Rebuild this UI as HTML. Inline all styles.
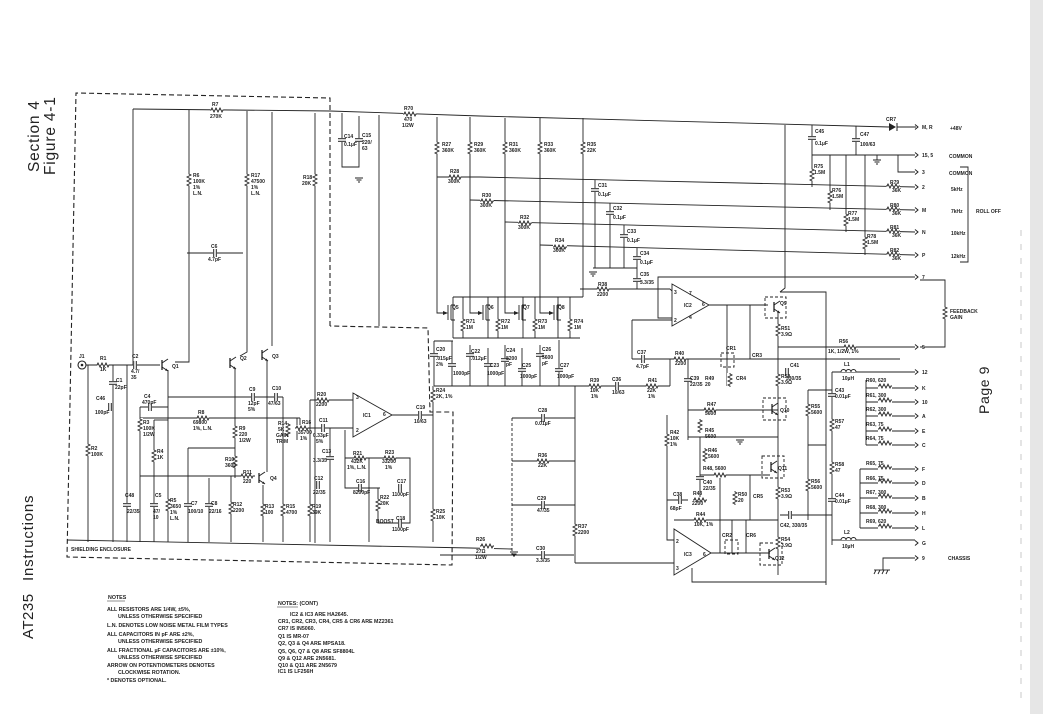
<!DOCTYPE html>
<html><head><meta charset="utf-8"><style>
html,body{margin:0;padding:0;background:#fff;}
svg{display:block;}
text{font-family:"Liberation Sans",sans-serif;fill:#222;}
.t{font-size:5px;font-weight:bold;}
.n{font-size:5.3px;font-weight:bold;}
</style></head><body>
<svg width="1043" height="714" viewBox="0 0 1043 714" xmlns="http://www.w3.org/2000/svg">
<defs>
<g id="rv"><rect x="-3" y="-7" width="6" height="14" fill="#fff"/><polyline points="0,-7 0,-6 2,-5 -2,-3 2,-1 -2,1 2,3 -2,5 0,6 0,7" fill="none" stroke="#222" stroke-width="0.9"/></g>
<g id="rh"><rect x="-7" y="-3" width="14" height="6" fill="#fff"/><polyline points="-7,0 -6,0 -5,-2 -3,2 -1,-2 1,2 3,-2 5,2 6,0 7,0" fill="none" stroke="#222" stroke-width="0.9"/></g>
<g id="cv"><rect x="-4" y="-2" width="8" height="4" fill="#fff"/><line x1="-4" y1="-1.3" x2="4" y2="-1.3" stroke="#222" stroke-width="1"/><line x1="-4" y1="1.3" x2="4" y2="1.3" stroke="#222" stroke-width="1"/></g>
<g id="ch"><rect x="-2" y="-4" width="4" height="8" fill="#fff"/><line x1="-1.3" y1="-4" x2="-1.3" y2="4" stroke="#222" stroke-width="1"/><line x1="1.3" y1="-4" x2="1.3" y2="4" stroke="#222" stroke-width="1"/></g>
<g id="ar"><polyline points="-3,-2.5 0,0 -3,2.5" fill="none" stroke="#222" stroke-width="1"/></g>
<g id="gnd"><line x1="-4" y1="0" x2="4" y2="0" stroke="#222"/><line x1="-2.5" y1="2" x2="2.5" y2="2" stroke="#222"/><line x1="-1" y1="4" x2="1" y2="4" stroke="#222"/></g>
<g id="tr"><circle cx="0" cy="0" r="0" fill="none"/><line x1="-3" y1="-5" x2="-3" y2="5" stroke="#222" stroke-width="1.3"/><line x1="-3" y1="-2" x2="3" y2="-6" stroke="#222"/><line x1="-3" y1="2" x2="3" y2="6" stroke="#222"/><polygon points="3,6 0,5.5 1.5,3.5" fill="#222"/></g>
</defs>

<!-- right gray strip -->
<rect x="1030" y="0" width="13" height="714" fill="#e6e6e6"/>
<line x1="1021" y1="230" x2="1021" y2="700" stroke="#bbb" stroke-width="0.8" stroke-dasharray="6 8"/>

<!-- side titles -->
<text transform="translate(39,172) rotate(-90)" font-size="15.5" letter-spacing="0.8">Section 4</text>
<text transform="translate(55,175) rotate(-90)" font-size="15.5" letter-spacing="0.8">Figure 4-1</text>
<text transform="translate(33,581) rotate(-90)" font-size="15" letter-spacing="0.8">Instructions</text>
<text transform="translate(33,639) rotate(-90)" font-size="15" letter-spacing="0.5">AT235</text>
<text transform="translate(989,414) rotate(-90)" font-size="14" letter-spacing="0.6">Page 9</text>

<g fill="none" stroke="#222" stroke-width="0.9">
<!-- shielding enclosure dashed -->
<polyline points="330,326 330,98 76,93 67,557 452,565 453,412 430,412 428,328 330,326" stroke-dasharray="5 3" stroke-width="1.1"/>

<!-- top bus -->
<polyline points="133,109 330,111 480,116 889,127"/>
<line x1="897" y1="127" x2="916" y2="127"/>
<!-- left verticals -->
<line x1="133" y1="109" x2="133" y2="365"/>
<polyline points="189,110 189,362 175,362"/>
<polyline points="247,111 247,352 240,356"/>
<line x1="272" y1="112" x2="272" y2="346"/>
<line x1="315" y1="113" x2="315" y2="543"/>
<line x1="379" y1="115" x2="379" y2="326"/>
<polyline points="342,113 342,167 359,167 359,116"/>
<line x1="187" y1="253" x2="243" y2="253"/>
<!-- J1 input -->
<line x1="86" y1="365" x2="160" y2="365"/>
<line x1="88" y1="365" x2="88" y2="542"/>
<line x1="113" y1="365" x2="113" y2="542"/>
<line x1="127" y1="365" x2="127" y2="542"/>
<line x1="140" y1="407" x2="140" y2="542"/>
<polyline points="140,407 168,407"/>
<line x1="168" y1="370" x2="168" y2="542"/>
<line x1="154" y1="420" x2="154" y2="542"/>
<line x1="154" y1="420" x2="168" y2="420"/>
<line x1="168" y1="397" x2="283" y2="397"/>
<line x1="140" y1="418" x2="300" y2="418"/>
<line x1="235" y1="368" x2="235" y2="478"/>
<polyline points="188,448 235,448"/>
<line x1="188" y1="448" x2="188" y2="542"/>
<line x1="209" y1="478" x2="209" y2="542"/>
<polyline points="140,476 255,476"/>
<line x1="231" y1="476" x2="231" y2="542"/>
<line x1="263" y1="485" x2="263" y2="542"/>
<line x1="267" y1="360" x2="267" y2="472"/>
<line x1="283" y1="397" x2="283" y2="542"/>
<line x1="297" y1="418" x2="297" y2="440"/>
<polyline points="300,418 300,428 330,428 353,428"/>
<polyline points="310,400 353,400"/>
<line x1="310" y1="400" x2="310" y2="542"/>
<line x1="330" y1="428" x2="330" y2="542"/>
<polyline points="345,430 345,488 380,488"/>
<polyline points="345,458 410,458 410,523 378,523 378,488"/>
<line x1="369" y1="458" x2="369" y2="542"/>
<polyline points="392,415 433,415"/>
<line x1="433" y1="386" x2="433" y2="542"/>
<!-- IC1 -->
<polygon points="353,393 353,437 392,415" fill="#fff"/>
<!-- ground line -->
<polyline points="67,540 470,548 512,549"/>

<!-- FET area -->
<polyline points="437,117 437,313 444,313"/>
<polyline points="470,117 470,313 478,313"/>
<polyline points="505,118 505,313 514,313"/>
<polyline points="540,118 540,313 549,313"/>
<line x1="583" y1="118" x2="583" y2="297"/>
<line x1="453" y1="297" x2="583" y2="297"/>
<line x1="453" y1="338" x2="580" y2="338"/>
<line x1="453" y1="297" x2="453" y2="338"/>
<line x1="463" y1="297" x2="463" y2="338"/>
<line x1="488" y1="297" x2="488" y2="338"/>
<line x1="498" y1="297" x2="498" y2="338"/>
<line x1="523" y1="297" x2="523" y2="338"/>
<line x1="535" y1="297" x2="535" y2="338"/>
<line x1="558" y1="297" x2="558" y2="338"/>
<line x1="570" y1="297" x2="570" y2="338"/>
<line x1="434" y1="341" x2="434" y2="386"/>
<line x1="452" y1="341" x2="452" y2="386"/>
<line x1="470" y1="345" x2="470" y2="386"/>
<line x1="488" y1="348" x2="488" y2="386"/>
<line x1="505" y1="345" x2="505" y2="386"/>
<line x1="522" y1="348" x2="522" y2="386"/>
<line x1="540" y1="345" x2="540" y2="386"/>
<line x1="559" y1="340" x2="559" y2="386"/>
<line x1="434" y1="341" x2="453" y2="341"/>
<line x1="434" y1="386" x2="670" y2="386"/>
<line x1="670" y1="359" x2="670" y2="386"/>
<!-- roll off lines -->
<polyline points="437,177 480,177 915,187"/>
<polyline points="470,200 915,210"/>
<polyline points="505,222 915,232"/>
<polyline points="540,245 915,255"/>
<line x1="595" y1="180" x2="595" y2="268"/>
<line x1="610" y1="203" x2="610" y2="268"/>
<line x1="624" y1="225" x2="624" y2="268"/>
<line x1="637" y1="248" x2="637" y2="289"/>
<line x1="593" y1="268" x2="637" y2="268"/>
<line x1="580" y1="289" x2="670" y2="289"/>
<line x1="670" y1="289" x2="672" y2="291"/>
<!-- right supply -->
<line x1="812" y1="125" x2="812" y2="187"/>
<line x1="856" y1="126" x2="856" y2="155"/>
<line x1="812" y1="155" x2="915" y2="155"/>
<line x1="830" y1="155" x2="830" y2="210"/>
<line x1="846" y1="155" x2="846" y2="232"/>
<line x1="865" y1="155" x2="865" y2="255"/>
<polyline points="898,155 898,172 915,172"/>
<line x1="877" y1="155" x2="877" y2="160"/>
<polyline points="960,167 968,167 968,262 960,262"/>
<!-- IC2 -->
<polyline points="785,125 785,288 780,292"/>
<polyline points="672,318 658,318 658,277 915,277"/>
<polyline points="632,320 672,320"/>
<line x1="632" y1="320" x2="632" y2="359"/>
<line x1="632" y1="359" x2="900" y2="359"/>
<polygon points="672,284 672,326 709,305" fill="#fff"/>
<line x1="709" y1="305" x2="768" y2="305"/>
<line x1="727" y1="305" x2="727" y2="386"/>
<line x1="750" y1="305" x2="750" y2="359"/>
<polyline points="780,292 826,292 826,585"/>
<line x1="778" y1="312" x2="778" y2="575"/>
<line x1="778" y1="347" x2="915" y2="347"/>
<polyline points="920,280 945,280 945,347 920,347"/>
<!-- lower right -->
<line x1="808" y1="390" x2="808" y2="520"/>
<line x1="832" y1="372" x2="832" y2="545"/>
<line x1="808" y1="390" x2="832" y2="390"/>
<line x1="808" y1="445" x2="826" y2="445"/>
<line x1="780" y1="515" x2="832" y2="515"/>
<polyline points="832,372 866,372 915,372"/>
<polyline points="832,540 860,540 915,540"/>
<polyline points="866,380 866,445"/>
<polyline points="866,388 915,388"/>
<polyline points="866,402 915,402"/>
<polyline points="866,416 915,416"/>
<polyline points="866,431 915,431"/>
<polyline points="866,445 915,445"/>
<polyline points="860,469 860,528"/>
<polyline points="860,469 915,469"/>
<polyline points="860,483 915,483"/>
<polyline points="860,498 915,498"/>
<polyline points="860,513 915,513"/>
<polyline points="860,528 915,528"/>
<polyline points="883,570 883,558 915,558"/>
<line x1="874" y1="570" x2="890" y2="570"/>
<line x1="876" y1="570" x2="874" y2="574"/><line x1="880" y1="570" x2="878" y2="574"/><line x1="884" y1="570" x2="882" y2="574"/><line x1="888" y1="570" x2="886" y2="574"/>
<!-- mid-right transistor stage -->
<line x1="688" y1="359" x2="688" y2="440"/>
<line x1="688" y1="410" x2="778" y2="410"/>
<polyline points="688,437 778,437"/>
<line x1="700" y1="437" x2="700" y2="500"/>
<polyline points="700,475 770,475"/>
<line x1="720" y1="475" x2="720" y2="553"/>
<line x1="750" y1="475" x2="750" y2="520"/>
<polyline points="667,415 667,540 674,540"/>
<polyline points="667,500 688,500"/>
<polyline points="674,520 778,520"/>
<line x1="732" y1="520" x2="732" y2="553"/>
<line x1="746" y1="520" x2="746" y2="553"/>
<polygon points="674,529 674,575 711,553" fill="#fff"/>
<line x1="711" y1="553" x2="770" y2="553"/>
<polyline points="692,568 692,582 823,582 826,582"/>
<!-- lower middle -->
<line x1="512" y1="418" x2="575" y2="418"/>
<line x1="512" y1="461" x2="575" y2="461"/>
<line x1="512" y1="505" x2="575" y2="505"/>
<line x1="440" y1="555" x2="574" y2="555"/>
<line x1="512" y1="418" x2="512" y2="555" stroke-dasharray="3 2"/>
<line x1="575" y1="386" x2="575" y2="563"/>
<line x1="575" y1="563" x2="674" y2="563"/>
</g>

<!-- J1 -->
<circle cx="82" cy="365" r="4" fill="#fff" stroke="#222" stroke-width="1.1"/>
<circle cx="82" cy="365" r="1.3" fill="#222"/>
<!-- transistors -->
<use href="#tr" x="165" y="365"/>
<use href="#tr" x="233" y="363"/>
<use href="#tr" x="265" y="355"/>
<use href="#tr" x="262" y="478"/>
<!-- FETs -->
<g fill="none" stroke="#222" stroke-width="0.9">
<path d="M448,305 v15 M451,305 h4 M451,320 h4 M451,305 v15"/>
<path d="M483,305 v15 M486,305 h4 M486,320 h4 M486,305 v15"/>
<path d="M519,305 v15 M522,305 h4 M522,320 h4 M522,305 v15"/>
<path d="M554,305 v15 M557,305 h4 M557,320 h4 M557,305 v15"/>
</g>
<g fill="#222"><polygon points="448,313 443,311 443,315"/><polygon points="483,313 478,311 478,315"/><polygon points="519,313 514,311 514,315"/><polygon points="554,313 549,311 549,315"/></g>
<!-- dashed boxes -->
<g fill="none" stroke="#222" stroke-width="0.9" stroke-dasharray="3 2">
<rect x="765" y="297" width="21" height="21"/>
<rect x="763" y="398" width="23" height="22"/>
<rect x="762" y="456" width="22" height="22"/>
<rect x="760" y="543" width="22" height="22"/>
<rect x="721" y="353" width="13" height="14"/>
<rect x="725" y="540" width="13" height="14"/>
</g>
<use href="#tr" x="777" y="307"/>
<use href="#tr" x="775" y="409"/>
<use href="#tr" x="774" y="467"/>
<use href="#tr" x="772" y="554"/>
<!-- CR7 diode -->
<polygon points="889,123 889,131 896,127" fill="#222"/><line x1="897" y1="123" x2="897" y2="131" stroke="#222"/>

<!-- resistors -->
<use href="#rh" x="217" y="110"/>
<use href="#rh" x="410" y="114"/>
<use href="#rv" x="189" y="180"/>
<use href="#rv" x="247" y="180"/>
<use href="#rv" x="315" y="180"/>
<use href="#rv" x="437" y="148"/>
<use href="#rv" x="470" y="148"/>
<use href="#rv" x="505" y="148"/>
<use href="#rv" x="540" y="148"/>
<use href="#rv" x="583" y="148"/>
<use href="#rh" x="455" y="177"/>
<use href="#rh" x="487" y="201"/>
<use href="#rh" x="525" y="223"/>
<use href="#rh" x="560" y="247"/>
<use href="#rv" x="812" y="175"/>
<use href="#rv" x="830" y="197"/>
<use href="#rv" x="846" y="220"/>
<use href="#rv" x="865" y="243"/>
<use href="#rh" x="893" y="186"/>
<use href="#rh" x="893" y="209"/>
<use href="#rh" x="893" y="231"/>
<use href="#rh" x="893" y="254"/>
<use href="#rh" x="603" y="289"/>
<use href="#rv" x="463" y="325"/>
<use href="#rv" x="498" y="325"/>
<use href="#rv" x="535" y="325"/>
<use href="#rv" x="570" y="325"/>
<use href="#rh" x="103" y="365"/>
<use href="#rv" x="88" y="450"/>
<use href="#rv" x="140" y="425"/>
<use href="#rv" x="154" y="456"/>
<use href="#rv" x="168" y="505"/>
<use href="#rh" x="203" y="418"/>
<use href="#rv" x="235" y="432"/>
<use href="#rv" x="235" y="462"/>
<use href="#rh" x="247" y="476"/>
<use href="#rv" x="231" y="508"/>
<use href="#rv" x="263" y="510"/>
<use href="#rv" x="283" y="510"/>
<use href="#rv" x="310" y="510"/>
<use href="#rv" x="288" y="430"/>
<use href="#rh" x="302" y="428"/>
<use href="#rh" x="323" y="400"/>
<use href="#rh" x="360" y="458"/>
<use href="#rh" x="390" y="458"/>
<use href="#rv" x="378" y="505"/>
<use href="#rv" x="433" y="396"/>
<use href="#rv" x="433" y="515"/>
<use href="#rh" x="595" y="386"/>
<use href="#rh" x="652" y="386"/>
<use href="#rh" x="680" y="359"/>
<use href="#rh" x="543" y="461"/>
<use href="#rv" x="575" y="530"/>
<use href="#rh" x="487" y="546"/>
<use href="#rv" x="945" y="313"/>
<use href="#rv" x="778" y="330"/>
<use href="#rh" x="850" y="347"/>
<use href="#rv" x="730" y="380"/>
<use href="#rv" x="778" y="380"/>
<use href="#rh" x="710" y="410"/>
<use href="#rv" x="700" y="426"/>
<use href="#rv" x="667" y="440"/>
<use href="#rv" x="705" y="455"/>
<use href="#rh" x="720" y="475"/>
<use href="#rh" x="700" y="500"/>
<use href="#rv" x="735" y="498"/>
<use href="#rh" x="700" y="520"/>
<use href="#rv" x="778" y="493"/>
<use href="#rv" x="778" y="543"/>
<use href="#rv" x="808" y="410"/>
<use href="#rv" x="808" y="485"/>
<use href="#rv" x="832" y="425"/>
<use href="#rv" x="832" y="468"/>
<use href="#rh" x="885" y="386"/><use href="#rh" x="885" y="400"/><use href="#rh" x="885" y="414"/><use href="#rh" x="885" y="429"/><use href="#rh" x="885" y="443"/>
<use href="#rh" x="885" y="467"/><use href="#rh" x="885" y="481"/><use href="#rh" x="885" y="496"/><use href="#rh" x="885" y="511"/><use href="#rh" x="885" y="526"/>
<!-- inductors -->
<path d="M841,372 a2.5,2.5 0 0 1 5,0 a2.5,2.5 0 0 1 5,0 a2.5,2.5 0 0 1 5,0" fill="#fff" stroke="#222"/>
<path d="M841,540 a2.5,2.5 0 0 1 5,0 a2.5,2.5 0 0 1 5,0 a2.5,2.5 0 0 1 5,0" fill="#fff" stroke="#222"/>
<!-- caps -->
<use href="#cv" x="342" y="140"/><use href="#cv" x="359" y="140"/>
<use href="#ch" x="215" y="253"/>
<use href="#ch" x="135" y="365"/>
<use href="#cv" x="113" y="383"/>
<use href="#ch" x="110" y="407"/>
<use href="#ch" x="150" y="407"/>
<use href="#ch" x="253" y="397"/>
<use href="#ch" x="276" y="397"/>
<use href="#cv" x="127" y="505"/><use href="#cv" x="154" y="505"/><use href="#cv" x="188" y="505"/><use href="#cv" x="209" y="505"/>
<use href="#ch" x="323" y="428"/>
<use href="#cv" x="330" y="458"/>
<use href="#ch" x="318" y="485"/>
<use href="#ch" x="360" y="488"/><use href="#ch" x="400" y="488"/><use href="#ch" x="400" y="523"/>
<use href="#ch" x="420" y="415"/>
<use href="#cv" x="595" y="190"/><use href="#cv" x="610" y="213"/><use href="#cv" x="624" y="236"/><use href="#cv" x="637" y="258"/><use href="#cv" x="637" y="280"/>
<use href="#cv" x="812" y="138"/><use href="#cv" x="856" y="140"/>
<use href="#cv" x="434" y="355"/><use href="#cv" x="452" y="365"/><use href="#cv" x="470" y="355"/><use href="#cv" x="488" y="365"/><use href="#cv" x="505" y="360"/><use href="#cv" x="522" y="370"/><use href="#cv" x="540" y="355"/><use href="#cv" x="559" y="370"/>
<use href="#ch" x="617" y="386"/><use href="#ch" x="643" y="359"/>
<use href="#ch" x="543" y="418"/><use href="#ch" x="543" y="505"/><use href="#ch" x="543" y="555"/>
<use href="#cv" x="688" y="380"/>
<use href="#cv" x="700" y="478"/>
<use href="#ch" x="680" y="500"/>
<use href="#ch" x="790" y="515"/>
<use href="#ch" x="787" y="372"/>
<use href="#cv" x="832" y="395"/><use href="#cv" x="832" y="500"/>
<!-- grounds -->
<use href="#gnd" x="359" y="178"/><use href="#gnd" x="593" y="272"/><use href="#gnd" x="877" y="160"/><use href="#gnd" x="514" y="552"/><use href="#gnd" x="740" y="440"/>
<!-- terminal arrows -->
<g>
<use href="#ar" x="918" y="127"/><use href="#ar" x="918" y="155"/><use href="#ar" x="918" y="172"/><use href="#ar" x="918" y="187"/><use href="#ar" x="918" y="210"/><use href="#ar" x="918" y="232"/><use href="#ar" x="918" y="255"/><use href="#ar" x="918" y="277"/><use href="#ar" x="918" y="347"/>
<use href="#ar" x="918" y="372"/><use href="#ar" x="918" y="388"/><use href="#ar" x="918" y="402"/><use href="#ar" x="918" y="416"/><use href="#ar" x="918" y="431"/><use href="#ar" x="918" y="445"/><use href="#ar" x="918" y="469"/><use href="#ar" x="918" y="483"/><use href="#ar" x="918" y="498"/><use href="#ar" x="918" y="513"/><use href="#ar" x="918" y="528"/><use href="#ar" x="918" y="543"/><use href="#ar" x="918" y="558"/>
</g>

<!-- labels -->
<g class="t">
<text x="212" y="106">R7</text><text x="210" y="118">270K</text>
<text x="404" y="110">R70</text><text x="404" y="121">470</text><text x="402" y="127">1/2W</text>
<text x="193" y="177">R6</text><text x="193" y="183">100K</text><text x="193" y="189">1%</text><text x="193" y="195">L.N.</text>
<text x="251" y="177">R17</text><text x="251" y="183">47500</text><text x="251" y="189">1%</text><text x="251" y="195">L.N.</text>
<text x="303" y="179">R18</text><text x="302" y="185">20K</text>
<text x="344" y="138">C14</text><text x="344" y="146">0.1µF</text><text x="362" y="137">C15</text><text x="362" y="144">220/</text><text x="362" y="150">63</text>
<text x="211" y="248">C6</text><text x="208" y="261">4.7pF</text>
<text x="442" y="146">R27</text><text x="442" y="152">360K</text>
<text x="474" y="146">R29</text><text x="474" y="152">360K</text>
<text x="509" y="146">R31</text><text x="509" y="152">360K</text>
<text x="544" y="146">R33</text><text x="544" y="152">360K</text>
<text x="587" y="146">R35</text><text x="587" y="152">22K</text>
<text x="450" y="173">R28</text><text x="448" y="183">300K</text>
<text x="482" y="197">R30</text><text x="480" y="207">300K</text>
<text x="520" y="219">R32</text><text x="518" y="229">300K</text>
<text x="555" y="242">R34</text><text x="553" y="252">300K</text>
<text x="598" y="187">C31</text><text x="598" y="196">0.1µF</text>
<text x="613" y="210">C32</text><text x="613" y="219">0.1µF</text>
<text x="627" y="233">C33</text><text x="627" y="242">0.1µF</text>
<text x="640" y="255">C34</text><text x="640" y="264">0.1µF</text>
<text x="640" y="276">C35</text><text x="640" y="284">3.3/35</text>
<text x="598" y="286">R38</text><text x="597" y="296">2200</text>
<text x="815" y="133">C45</text><text x="815" y="145">0.1µF</text>
<text x="860" y="136">C47</text><text x="860" y="146">100/63</text>
<text x="814" y="168">R75</text><text x="814" y="174">1.5M</text>
<text x="832" y="192">R76</text><text x="832" y="198">1.5M</text>
<text x="848" y="215">R77</text><text x="848" y="221">1.5M</text>
<text x="867" y="238">R78</text><text x="867" y="244">1.5M</text>
<text x="890" y="184">R79</text><text x="892" y="192">36K</text>
<text x="890" y="207">R80</text><text x="892" y="215">36K</text>
<text x="890" y="229">R81</text><text x="892" y="237">36K</text>
<text x="890" y="252">R82</text><text x="892" y="260">36K</text>
<text x="886" y="121">CR7</text>
<text x="922" y="129">M, R</text><text x="950" y="130">+48V</text>
<text x="922" y="157">15, 5</text><text x="949" y="158">COMMON</text>
<text x="922" y="174">3</text><text x="949" y="175">COMMON</text>
<text x="922" y="189">2</text><text x="951" y="191">5kHz</text>
<text x="922" y="212">M</text><text x="951" y="213">7kHz</text><text x="976" y="213">ROLL OFF</text>
<text x="922" y="234">N</text><text x="951" y="235">10kHz</text>
<text x="922" y="257">P</text><text x="951" y="258">12kHz</text>
<text x="922" y="279">7</text><text x="922" y="349">5</text>
<text x="950" y="313">FEEDBACK</text><text x="950" y="319">GAIN</text>
<text x="684" y="307">IC2</text><text x="674" y="294">3</text><text x="674" y="322">2</text><text x="702" y="306">6</text><text x="689" y="295">7</text><text x="689" y="319">4</text>
<text x="780" y="305">Q9</text><text x="781" y="330">R51</text><text x="781" y="336">3.9Ω</text>
<text x="839" y="343">R56</text><text x="828" y="353">1K, 1/2W, 1%</text>
<text x="452" y="309">Q5</text><text x="487" y="309">Q6</text><text x="523" y="309">Q7</text><text x="558" y="309">Q8</text>
<text x="466" y="323">R71</text><text x="466" y="329">1M</text><text x="501" y="323">R72</text><text x="501" y="329">1M</text><text x="538" y="323">R73</text><text x="538" y="329">1M</text><text x="574" y="323">R74</text><text x="574" y="329">1M</text>
<text x="436" y="351">C20</text><text x="436" y="360">.015µF</text><text x="436" y="366">2%</text>
<text x="453" y="375">1000pF</text><text x="471" y="353">C22</text><text x="471" y="360">.012µF</text><text x="490" y="367">C23</text><text x="487" y="375">1000pF</text>
<text x="506" y="352">C24</text><text x="506" y="360">8200</text><text x="506" y="366">pF</text><text x="522" y="367">C25</text><text x="520" y="378">1000pF</text>
<text x="542" y="351">C26</text><text x="542" y="359">5600</text><text x="542" y="365">pF</text><text x="560" y="367">C27</text><text x="557" y="378">1000pF</text>
<text x="590" y="382">R39</text><text x="590" y="392">10K</text><text x="591" y="398">1%</text>
<text x="612" y="381">C36</text><text x="612" y="394">10/63</text>
<text x="648" y="382">R41</text><text x="647" y="392">22K</text><text x="648" y="398">1%</text>
<text x="637" y="354">C37</text><text x="636" y="368">4.7pF</text><text x="675" y="355">R40</text><text x="675" y="365">2200</text>
<text x="690" y="380">C39</text><text x="690" y="386">22/35</text>
<text x="705" y="380">R49</text><text x="705" y="386">20</text><text x="736" y="380">CR4</text>
<text x="726" y="350">CR1</text><text x="752" y="357">CR3</text>
<text x="781" y="378">R52</text><text x="781" y="384">3.9Ω</text><text x="790" y="367">C41</text><text x="786" y="380">330/35</text>
<text x="707" y="406">R47</text><text x="705" y="415">5600</text><text x="705" y="432">R45</text><text x="705" y="438">5600</text>
<text x="780" y="412">Q10</text><text x="811" y="408">R55</text><text x="811" y="414">5600</text>
<text x="835" y="392">C43</text><text x="835" y="398">0.01µF</text><text x="835" y="423">R57</text><text x="835" y="429">47</text>
<text x="835" y="466">R58</text><text x="835" y="472">47</text><text x="835" y="497">C44</text><text x="835" y="503">0.01µF</text>
<text x="670" y="434">R42</text><text x="670" y="440">10K</text><text x="670" y="446">1%</text>
<text x="708" y="452">R46</text><text x="708" y="458">5600</text><text x="703" y="470">R48, 5600</text>
<text x="703" y="484">C40</text><text x="703" y="490">22/35</text><text x="778" y="470">Q11</text>
<text x="673" y="496">C38</text><text x="670" y="510">68pF</text><text x="693" y="495">R43</text><text x="692" y="505">2200</text>
<text x="738" y="496">R50</text><text x="738" y="502">20</text><text x="753" y="498">CR5</text>
<text x="781" y="492">R53</text><text x="781" y="498">3.9Ω</text><text x="811" y="483">R56</text><text x="811" y="489">5600</text>
<text x="780" y="527">C42, 330/35</text><text x="696" y="516">R44</text><text x="694" y="526">10K, 1%</text>
<text x="722" y="537">CR2</text><text x="746" y="537">CR6</text>
<text x="781" y="541">R54</text><text x="781" y="547">3.9Ω</text><text x="775" y="560">Q12</text>
<text x="684" y="556">IC3</text><text x="676" y="543">2</text><text x="676" y="570">3</text><text x="703" y="556">6</text>
<text x="844" y="366">L1</text><text x="842" y="380">10µH</text><text x="844" y="534">L2</text><text x="842" y="548">10µH</text>
<text x="866" y="382">R60, 620</text><text x="866" y="397">R61, 300</text><text x="866" y="411">R62, 300</text><text x="866" y="426">R63, 75</text><text x="866" y="440">R64, 75</text>
<text x="866" y="465">R65, 75</text><text x="866" y="480">R66, 75</text><text x="866" y="494">R67, 300</text><text x="866" y="509">R68, 300</text><text x="866" y="523">R69, 620</text>
<text x="922" y="374">12</text><text x="922" y="390">K</text><text x="922" y="404">10</text><text x="922" y="418">A</text><text x="922" y="433">E</text><text x="922" y="447">C</text>
<text x="922" y="471">F</text><text x="922" y="485">D</text><text x="922" y="500">B</text><text x="922" y="515">H</text><text x="922" y="530">L</text><text x="922" y="545">G</text><text x="922" y="560">9</text><text x="948" y="560">CHASSIS</text>
<text x="538" y="412">C28</text><text x="535" y="425">0.01µF</text><text x="538" y="457">R36</text><text x="538" y="467">22K</text>
<text x="537" y="500">C29</text><text x="537" y="512">47/35</text><text x="536" y="550">C30</text><text x="536" y="562">3.3/35</text>
<text x="578" y="528">R37</text><text x="578" y="534">2200</text>
<text x="476" y="541">R26</text><text x="476" y="553">27Ω</text><text x="475" y="559">1/2W</text>
<text x="79" y="358">J1</text><text x="100" y="360">R1</text><text x="100" y="371">1K</text>
<text x="132" y="358">C2</text><text x="131" y="373">4.7/</text><text x="131" y="379">35</text><text x="172" y="368">Q1</text>
<text x="116" y="382">C1</text><text x="115" y="389">22pF</text>
<text x="96" y="400">C46</text><text x="95" y="414">100pF</text><text x="91" y="450">R2</text><text x="91" y="456">100K</text>
<text x="144" y="398">C4</text><text x="142" y="404">470pF</text>
<text x="143" y="424">R3</text><text x="143" y="430">100K</text><text x="143" y="436">1/2W</text>
<text x="157" y="453">R4</text><text x="157" y="459">1K</text>
<text x="240" y="360">Q2</text><text x="272" y="358">Q3</text>
<text x="249" y="391">C9</text><text x="248" y="405">12pF</text><text x="248" y="411">5%</text>
<text x="272" y="390">C10</text><text x="268" y="405">47/63</text>
<text x="198" y="414">R8</text><text x="193" y="424">69800</text><text x="193" y="430">1%, L.N.</text>
<text x="239" y="430">R9</text><text x="239" y="436">220</text><text x="239" y="442">1/2W</text>
<text x="225" y="461">R10</text><text x="225" y="467">3600</text>
<text x="243" y="474">R11</text><text x="243" y="483">220</text><text x="270" y="480">Q4</text>
<text x="278" y="425">R14</text><text x="278" y="431">5K</text><text x="276" y="437">GAIN</text><text x="276" y="443">TRIM</text>
<text x="302" y="424">R16</text><text x="298" y="434">35700</text><text x="300" y="440">1%</text>
<text x="317" y="396">R20</text><text x="316" y="406">2200</text>
<text x="319" y="422">C11</text><text x="313" y="437">0.33µF</text><text x="316" y="443">5%</text>
<text x="322" y="453">C13</text><text x="313" y="462">3.3/35</text>
<text x="314" y="480">C12</text><text x="313" y="494">22/35</text>
<text x="363" y="417">IC1</text><text x="356" y="399">3</text><text x="356" y="432">2</text><text x="383" y="416">6</text>
<text x="416" y="409">C19</text><text x="414" y="423">10/63</text>
<text x="436" y="392">R24</text><text x="436" y="398">2K, 1%</text>
<text x="353" y="455">R21</text><text x="351" y="463">432K</text><text x="347" y="469">1%, L.N.</text>
<text x="385" y="454">R23</text><text x="382" y="463">33200</text><text x="385" y="469">1%</text>
<text x="356" y="483">C16</text><text x="353" y="494">8200pF</text><text x="397" y="483">C17</text><text x="392" y="496">1100pF</text>
<text x="380" y="499">R22</text><text x="380" y="505">20K</text><text x="376" y="523">BOOST</text>
<text x="396" y="520">C18</text><text x="392" y="531">1100pF</text>
<text x="436" y="513">R25</text><text x="436" y="519">10K</text>
<text x="125" y="497">C48</text><text x="127" y="513">22/35</text>
<text x="155" y="497">C5</text><text x="153" y="513">47/</text><text x="153" y="519">10</text>
<text x="170" y="502">R5</text><text x="170" y="508">3650</text><text x="170" y="514">1%</text><text x="170" y="520">L.N.</text>
<text x="191" y="505">C7</text><text x="188" y="513">100/10</text><text x="211" y="505">C8</text><text x="209" y="513">22/16</text>
<text x="233" y="506">R12</text><text x="233" y="512">2200</text><text x="265" y="508">R13</text><text x="265" y="514">100</text>
<text x="286" y="508">R15</text><text x="286" y="514">4700</text><text x="312" y="508">R19</text><text x="312" y="514">39K</text>
<text x="71" y="551">SHIELDING ENCLOSURE</text>
</g>

<!-- notes -->
<g class="n">
<text x="108" y="599">NOTES</text>
<text x="107" y="611">ALL RESISTORS ARE 1/4W, ±5%,</text>
<text x="118" y="618">UNLESS OTHERWISE SPECIFIED</text>
<text x="107" y="627">L.N. DENOTES LOW NOISE METAL FILM TYPES</text>
<text x="107" y="636">ALL CAPACITORS IN pF ARE ±2%,</text>
<text x="118" y="643">UNLESS OTHERWISE SPECIFIED</text>
<text x="107" y="652">ALL FRACTIONAL µF CAPACITORS ARE ±10%,</text>
<text x="118" y="659">UNLESS OTHERWISE SPECIFIED</text>
<text x="107" y="667">ARROW ON POTENTIOMETERS DENOTES</text>
<text x="118" y="674">CLOCKWISE ROTATION.</text>
<text x="107" y="682">* DENOTES OPTIONAL.</text>
<text x="278" y="605">NOTES:  (CONT)</text>
<text x="290" y="616">IC2 &amp; IC3 ARE HA2645.</text>
<text x="278" y="623">CR1, CR2, CR3, CR4, CR5 &amp; CR6 ARE MZ2361</text>
<text x="278" y="630">CR7 IS IN5060.</text>
<text x="278" y="638">Q1 IS MR-07</text>
<text x="278" y="645">Q2, Q3 &amp; Q4 ARE MPSA18.</text>
<text x="278" y="653">Q5, Q6, Q7 &amp; Q8 ARE SF8804L</text>
<text x="278" y="660">Q9 &amp; Q12 ARE 2N5681.</text>
<text x="278" y="667">Q10 &amp; Q11 ARE 2N5679</text>
<text x="278" y="673">IC1 IS LF256H</text>
</g>
<line x1="107" y1="601" x2="125" y2="601" stroke="#222" stroke-width="0.6"/>
<line x1="277" y1="607" x2="298" y2="607" stroke="#222" stroke-width="0.6"/>
</svg>
</body></html>
